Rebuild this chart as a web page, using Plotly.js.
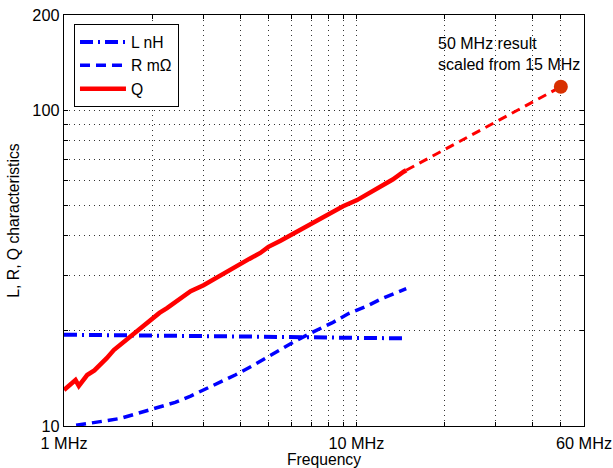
<!DOCTYPE html>
<html><head><meta charset="utf-8">
<script src="https://cdn.plot.ly/plotly-3.0.1.min.js"></script>
<style>html,body{margin:0;padding:0;background:#fff}</style>
</head><body>
<div id="chart" style="width:613px;height:468px"></div>
<script>
// Q (measured)
var qFreq = [1.0, 1.05, 1.095, 1.124, 1.16, 1.2, 1.27, 1.333, 1.40, 1.48, 1.56, 1.645, 1.73, 1.826, 2.0, 2.12, 2.25, 2.48, 2.71, 3.0, 3.3, 3.61, 4.0, 4.3, 4.69, 5.0, 5.5, 5.95, 6.5, 7.0, 7.5, 8.0, 9.0, 10.05, 11.0, 12.1, 13.3, 14.5, 14.8];
var qVal  = [13.0, 13.5, 13.98, 13.4, 13.9, 14.5, 15.0, 15.6, 16.4, 17.4, 18.1, 18.9, 19.6, 20.4, 22.0, 22.8, 23.6, 25.3, 26.7, 27.9, 29.4, 30.8, 32.5, 33.8, 35.3, 36.9, 38.6, 40.2, 42.0, 43.8, 45.4, 47.1, 49.6, 51.9, 54.5, 57.2, 60.3, 63.8, 64.5];
// Q extrapolation to 50 MHz
var qExtFreq = [14.8, 50];
var qExtVal  = [64.5, 118.5];
var q50Freq = [50];
var q50Val  = [118.5];
// L nH
var lFreq = [1, 1.5, 2, 3, 4, 5, 7, 10, 12, 14.8];
var lVal  = [19.45, 19.4, 19.35, 19.3, 19.2, 19.15, 19.1, 19.0, 18.97, 18.95];
// R mOhm
var rFreq = [1.1, 1.23, 1.4, 1.56, 1.71, 1.92, 2.08, 2.4, 2.71, 3.0, 3.42, 3.85, 4.46, 5.0, 5.5, 6.26, 7.15, 8.25, 9.4, 10.9, 12.1, 14.8];
var rVal  = [10.05, 10.24, 10.4, 10.57, 10.83, 11.16, 11.43, 11.88, 12.44, 13.0, 13.8, 14.5, 15.6, 16.6, 17.5, 18.7, 19.9, 21.2, 22.7, 24.0, 25.2, 27.2];

var xTickVals = [1,2,3,4,5,6,7,8,9,10,20,30,40,50,60];
var xTickText = ['1 MHz','','','','','','','','','10 MHz','','','','','60 MHz'];
var yTickVals = [10,20,30,40,50,60,70,80,90,100,200];
var yTickText = ['10','','','','','','','','','100','200'];

var FONT = 'Liberation Sans, Arial, Helvetica, sans-serif';

var traces = [
  {x: lFreq, y: lVal, name: 'L nH', mode: 'lines',
   line: {color: '#0000ff', width: 4, dash: '13px,5px,2px,5px'}},
  {x: rFreq, y: rVal, name: 'R m\u03A9', mode: 'lines',
   line: {color: '#0000ff', width: 3.5, dash: '10px,6px'}},
  {x: qFreq, y: qVal, name: 'Q', mode: 'lines',
   line: {color: '#ff0000', width: 4.5}},
  {x: qExtFreq, y: qExtVal, mode: 'lines', showlegend: false,
   line: {color: '#ff0000', width: 3, dash: '9px,6px'}},
  {x: q50Freq, y: q50Val, mode: 'markers', showlegend: false,
   marker: {color: '#d83000', size: 14}}
];

var axisCommon = {
  type: 'log', showgrid: true, gridcolor: '#333', gridwidth: 1, griddash: '1px,4px',
  ticks: 'inside', ticklen: 4, tickcolor: '#000', tickwidth: 1,
  showline: true, linecolor: '#000', linewidth: 1.2, mirror: 'ticks',
  zeroline: false, tickfont: {family: FONT, size: 16.3, color: '#000'},
  tickmode: 'array'
};

var layout = {
  width: 613, height: 468,
  margin: {l: 63.5, r: 29, t: 15, b: 42},
  paper_bgcolor: '#fff', plot_bgcolor: '#fff',
  font: {family: FONT, size: 15.7, color: '#000'},
  xaxis: Object.assign({}, axisCommon, {
    range: [0, Math.log10(60)], tickvals: xTickVals, ticktext: xTickText,
    ticklabelstandoff: 2,
    title: {text: 'Frequency', font: {family: FONT, size: 15.7, color: '#000'}, standoff: 0}
  }),
  yaxis: Object.assign({}, axisCommon, {
    range: [1, Math.log10(200)], tickvals: yTickVals, ticktext: yTickText,
    title: {text: 'L, R, Q characteristics', font: {family: FONT, size: 15.7, color: '#000'}, standoff: 8}
  }),
  legend: {x: 0.0188, y: 0.978, xanchor: 'left', yanchor: 'top',
    bgcolor: '#fff', bordercolor: '#000', borderwidth: 1.2, itemwidth: 46,
    font: {family: FONT, size: 15.7, color: '#000'}, tracegroupgap: 0},
  annotations: [{
    xref: 'paper', yref: 'paper', x: 0.7157, y: 0.955, xanchor: 'left', yanchor: 'top',
    text: '50 MHz result<br>scaled from 15 MHz', showarrow: false, align: 'left',
    font: {family: FONT, size: 16, color: '#000'}
  }],
  showlegend: true
};

Plotly.newPlot('chart', traces, layout, {displayModeBar: false, staticPlot: true});
</script>
</body></html>
